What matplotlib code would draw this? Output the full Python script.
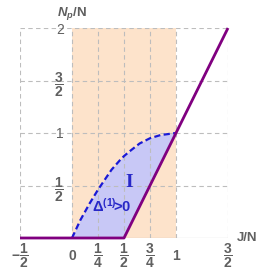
import numpy as np
import matplotlib
matplotlib.use("Agg")
import matplotlib.pyplot as plt

plt.rcParams["font.family"] = ["Liberation Sans", "DejaVu Sans"]
plt.rcParams["mathtext.fontset"] = "custom"
plt.rcParams["mathtext.rm"] = "Liberation Sans:bold"
plt.rcParams["mathtext.it"] = "Liberation Sans:italic:bold"
plt.rcParams["mathtext.bf"] = "Liberation Sans:bold"

# boundary J/N -> N_p/N (purple)
line_x = [-0.5, 0.5, 1.5]
line_y = [0, 0, 2]

# dashed Delta^(1) = 0 curve
curve_x = [0, 0.08, 0.17, 0.25, 0.38, 0.46, 0.5, 0.56, 0.65, 0.75, 0.85, 1.0]
curve_y = [0, 0.17, 0.33, 0.46, 0.65, 0.74, 0.78, 0.83, 0.90, 0.95, 0.98, 1.0]

# orange band
band_x = [0, 1]
band_top = 2

x_ticks = [-0.5, 0, 0.25, 0.5, 0.75, 1, 1.5]
x_labels = [r"$-\dfrac{1}{2}$", "0", r"$\dfrac{1}{4}$", r"$\dfrac{1}{2}$",
            r"$\dfrac{3}{4}$", "1", r"$\dfrac{3}{2}$"]
y_ticks = [0.5, 1, 1.5, 2]
y_labels = [r"$\dfrac{1}{2}$", "1", r"$\dfrac{3}{2}$", "2"]

COLORS = {
    "orange": "#FDE3CB",
    "blue_fill": "#C8C8F6",
    "purple": "#800080",
    "dash": "#1A1AD6",
    "text_blue": "#2828C8",
    "grid": "#BDBDBD",
    "tick": "#606060",
}

fig = plt.figure(figsize=(2.73, 2.73), dpi=100)
ax = fig.add_axes([20 / 273, 35 / 273, 208 / 273, 210 / 273])

ax.fill_between(band_x, 0, band_top, color=COLORS["orange"], lw=0, zorder=1)
lower = np.interp(curve_x, line_x, line_y)
ax.fill_between(curve_x, lower, curve_y, color=COLORS["blue_fill"], lw=0, zorder=1.2)

ax.axhline(0, color="#999999", lw=0.8, zorder=2)
ax.plot(curve_x, curve_y, color=COLORS["dash"], lw=1.6, dashes=(2.8, 1.5), zorder=3)
ax.plot(line_x, line_y, color=COLORS["purple"], lw=2.0, zorder=4, clip_on=False,
        solid_capstyle="butt")

ax.text(0.55, 0.53, "I", family="Liberation Serif", fontweight="bold", fontsize=14,
        color=COLORS["text_blue"], ha="center", va="center")
ax.text(0.385, 0.31, r"$\Delta^{(1)}\!$>0", fontsize=10.5, fontweight="bold",
        color=COLORS["text_blue"], ha="center", va="center")

ax.set_xlim(-0.5, 1.5)
ax.set_ylim(0, 2)
ax.set_xticks(x_ticks, [""] * len(x_ticks))
ax.set_yticks(y_ticks, y_labels)
ax.tick_params(length=0, labelsize=10, colors=COLORS["tick"])
ax.tick_params(axis="y", pad=6)
for t in ax.get_yticklabels():
    t.set_fontweight("bold")

# x tick labels centred ~18 px below the axis, Mathematica style
for xv, lbl in zip(x_ticks, x_labels):
    ax.annotate(lbl, xy=(xv, 0), xytext=(0, -13), textcoords="offset points",
                ha="center", va="center", fontsize=10, fontweight="bold",
                color=COLORS["tick"], annotation_clip=False)

ax.spines["left"].set_position(("data", 0))
for s in ax.spines.values():
    s.set_color("none")

ax.grid(True, color=COLORS["grid"], lw=0.8, dashes=(4, 3))
ax.set_axisbelow(False)

ax.set_xlabel("J/N", fontsize=9.5, fontweight="bold", color=COLORS["tick"])
ax.xaxis.set_label_coords(1.09, 0.0)
ax.xaxis.label.set_va("center")
ax.set_ylabel(r"$N_p$/N", fontsize=9.5, fontweight="bold", color=COLORS["tick"],
              rotation=0)
ax.yaxis.set_label_coords(0.25, 1.067)
ax.yaxis.label.set_va("center")
ax.yaxis.label.set_ha("center")

fig.savefig("out.png", dpi=100)
